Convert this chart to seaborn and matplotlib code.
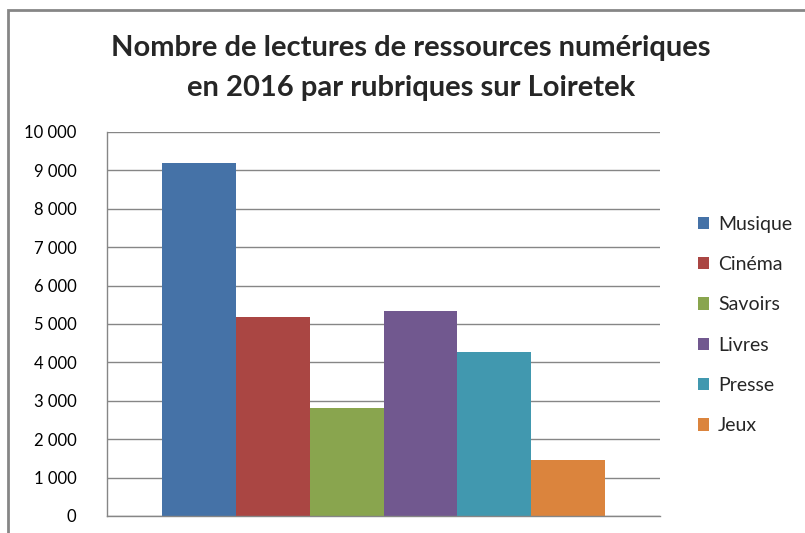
import pandas as pd
import matplotlib
matplotlib.use("agg")
import matplotlib.pyplot as plt
import matplotlib.patches as mpatches
import matplotlib.ticker as mticker
import seaborn as sns

rubriques = ["Musique", "Cinéma", "Savoirs", "Livres", "Presse", "Jeux"]
lectures = [9200, 5180, 2820, 5340, 4270, 1460]
couleurs = ["#4572A7", "#AA4643", "#89A54E", "#71588F", "#4198AF", "#DB843D"]
y_ticks = list(range(0, 10001, 1000))

GRIS = "#868686"


def fmt_milliers(v, pos):
    return f"{int(v):,}".replace(",", " ")


def main():
    sns.set_style("white")
    plt.rcParams["font.family"] = ["Lato", "DejaVu Sans"]

    df = pd.DataFrame({"annee": ["2016"] * len(rubriques),
                       "rubrique": rubriques,
                       "lectures": lectures})

    fig = plt.figure(figsize=(8.05, 5.33), dpi=100)
    ax = fig.add_axes([107 / 805, 1 - 516 / 533, (660 - 107) / 805, (516 - 132) / 533])

    sns.barplot(data=df, x="annee", y="lectures", hue="rubrique",
                hue_order=rubriques, palette=couleurs, width=0.8,
                saturation=1, linewidth=0, ax=ax, legend=True)

    ax.set_xlim(-0.5, 0.5)
    ax.set_ylim(0, 10000)
    ax.set_yticks(y_ticks)
    ax.yaxis.set_major_formatter(mticker.FuncFormatter(fmt_milliers))
    ax.set_xticks([])
    ax.set_xlabel("")
    ax.set_ylabel("")
    ax.grid(axis="y", color=GRIS, linewidth=1)
    ax.set_axisbelow(True)
    for s in ["top", "right"]:
        ax.spines[s].set_visible(False)
    for s in ["left", "bottom"]:
        ax.spines[s].set_color(GRIS)
        ax.spines[s].set_linewidth(1)
    ax.tick_params(axis="y", length=0, pad=22, labelsize=12, labelcolor="black")

    handles, labels = ax.get_legend_handles_labels()
    ax.legend(handles, labels, loc="upper left", bbox_to_anchor=(690 / 805, 1 - 208 / 533),
              bbox_transform=fig.transFigure, frameon=False, fontsize=14,
              handlelength=0.6, handleheight=0.6, handletextpad=0.45,
              labelspacing=1.2, borderaxespad=0)

    fig.text(411 / 805, 1 - 48 / 533, "Nombre de lectures de ressources numériques",
             ha="center", va="center", fontsize=21, fontweight="bold")
    fig.text(411 / 805, 1 - 88 / 533, "en 2016 par rubriques sur Loiretek",
             ha="center", va="center", fontsize=21, fontweight="bold")

    # cadre gris du graphique
    fig.patches.append(mpatches.Rectangle((8 / 805, -0.05), 1.0, 1 - 10 / 533 + 0.05,
                                          transform=fig.transFigure, fill=False,
                                          edgecolor=GRIS, linewidth=2))

    fig.savefig("out.png", dpi=100)
    plt.close(fig)


if __name__ == "__main__":
    main()
